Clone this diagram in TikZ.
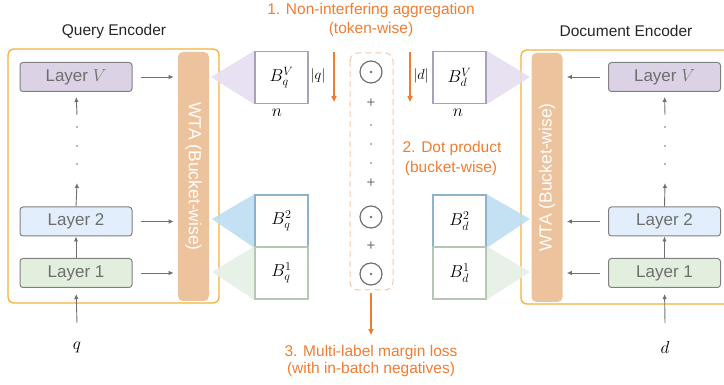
\documentclass[tikz,border=0pt]{standalone}
\usepackage{fontspec}
\setmainfont{Liberation Sans}
\usetikzlibrary{arrows.meta,backgrounds}

\definecolor{encborder}{RGB}{243,178,52}
\definecolor{wtafill}{RGB}{237,195,157}
\definecolor{aggorange}{RGB}{239,125,49}
\definecolor{dashorange}{RGB}{246,200,165}
\definecolor{arrgray}{RGB}{112,112,112}
\definecolor{laygray}{RGB}{128,128,128}
\definecolor{laytext}{RGB}{110,110,110}
\definecolor{fillV}{RGB}{219,211,229}
\definecolor{fillTwo}{RGB}{226,238,251}
\definecolor{fillOne}{RGB}{227,239,222}
\definecolor{edgeV}{RGB}{170,160,184}
\definecolor{edgeTwo}{RGB}{143,178,204}
\definecolor{edgeOne}{RGB}{181,200,179}
\definecolor{fanV}{RGB}{229,222,240}
\definecolor{fanTwo}{RGB}{188,222,241}
\definecolor{fanOne}{RGB}{230,239,228}

\tikzset{every picture/.style={line width=0.75pt}}

\begin{document}
\begin{tikzpicture}[x=1pt,y=1pt,yscale=-1,xscale=1,
  encbox/.style={draw=encborder,line width=1.3pt,rounded corners=6pt},
  layer/.style={draw=laygray,line width=1pt,rounded corners=3pt,minimum width=112pt,minimum height=29pt,text=laytext,font=\fontsize{17}{20}\selectfont},
  wta/.style={fill=wtafill,rounded corners=5pt,minimum width=31pt,minimum height=249pt,text=white,font=\fontsize{17.5}{20}\selectfont},
  bucket/.style={draw,fill=white,line width=1.5pt,minimum width=53pt,minimum height=52pt,font=\fontsize{16.5}{18}\selectfont},
  fan/.style={opacity=0.9},
  flow/.style={-{Latex[length=5pt,width=4.5pt]},draw=arrgray,line width=0.9pt},
  agg/.style={-{Triangle[length=6pt,width=5pt]},draw=aggorange,line width=1.5pt},
  dotprod/.style={circle,draw=arrgray,line width=1.2pt,minimum size=22pt,inner sep=0pt,path picture={\fill[arrgray] (path picture bounding box.center) circle (1.4pt);}},
  step note/.style={text=aggorange,font=\fontsize{15.5}{18}\selectfont},
  title/.style={text=black!85,font=\fontsize{15.5}{18}\selectfont},
  gray dot/.style={fill=arrgray,circle,inner sep=0pt,minimum size=1.6pt}]
	\clip (0,0) rectangle (724,385);

	\node [title] (qenc) at (114,31) {Query Encoder};
	\node [title] (denc) at (626,31) {Document Encoder};

	% Query layers
	\node [layer,fill=fillV] (qLV) at (76,77) {Layer $V$};
	\node [layer,fill=fillTwo] (qL2) at (76,221.5) {Layer 2};
	\node [layer,fill=fillOne] (qL1) at (76,273) {Layer 1};
	\node [wta] (qwta) at (193.5,176.5) {};
	\node [rotate=-90,text=white,font=\fontsize{17.5}{20}\selectfont] (qwtatext) at (qwta) {WTA (Bucket-wise)};

	% Document layers
	\node [layer,fill=fillV] (dLV) at (664.5,77) {Layer $V$};
	\node [layer,fill=fillTwo] (dL2) at (664.5,221.5) {Layer 2};
	\node [layer,fill=fillOne] (dL1) at (664.5,273) {Layer 1};
	\node [wta] (dwta) at (547,177.5) {};
	\node [rotate=90,text=white,font=\fontsize{17.5}{20}\selectfont] (dwtatext) at (dwta) {WTA (Bucket-wise)};

	% Inputs
	\node [font=\fontsize{17}{20}\selectfont] (qin) at (77,347) {$q$};
	\node [font=\fontsize{17}{20}\selectfont] (din) at (665,347) {$d$};
	\coordinate (qinTop) at (77,323);
	\coordinate (dinTop) at (665,323);
	\coordinate (qup) at (77,183);
	\coordinate (qdown) at (77,115);
	\coordinate (dup) at (665,183);
	\coordinate (ddown) at (665,115);

	% Vertical flow
	\draw [flow,shorten >=6pt] (qinTop) -- (qL1.south);
	\draw [flow] (qL1.north) -- (qL2.south);
	\draw [flow] (qL2.north) -- (qup);
	\draw [flow,shorten >=5pt] (qdown) -- (qLV.south);
	\draw [flow,shorten >=6pt] (dinTop) -- (dL1.south);
	\draw [flow] (dL1.north) -- (dL2.south);
	\draw [flow] (dL2.north) -- (dup);
	\draw [flow,shorten >=5pt] (ddown) -- (dLV.south);
	\foreach \y in {127,146,164} {
		\node [gray dot] at (77,\y) {};
		\node [gray dot] at (665,\y) {};
	}

	% Layers to WTA
	\draw [flow,shorten <=8pt,shorten >=4pt] (qLV.east) -- (qLV.east -| qwta.west);
	\draw [flow,shorten <=8pt,shorten >=4pt] (qL2.east) -- (qL2.east -| qwta.west);
	\draw [flow,shorten <=8pt,shorten >=4pt] (qL1.east) -- (qL1.east -| qwta.west);
	\draw [flow,shorten <=8pt,shorten >=4pt] (dLV.west) -- (dLV.west -| dwta.east);
	\draw [flow,shorten <=8pt,shorten >=4pt] (dL2.west) -- (dL2.west -| dwta.east);
	\draw [flow,shorten <=8pt,shorten >=4pt] (dL1.west) -- (dL1.west -| dwta.east);

	% Buckets
	\coordinate (qfanV) at (211,77);
	\coordinate (qfan2) at (212,219);
	\coordinate (qfan1) at (212,272);
	\coordinate (dfanV) at (530,77);
	\coordinate (dfan2) at (530,219);
	\coordinate (dfan1) at (530,272);
	\path (281.5,77.5) node [bucket,draw=edgeV] (qBV) {$B_q^V$};
	\path (281.5,221) node [bucket,draw=edgeTwo] (qB2) {$B_q^2$};
	\path (281.5,273) node [bucket,draw=edgeOne] (qB1) {$B_q^1$};
	\path (459.5,77.5) node [bucket,draw=edgeV] (dBV) {$B_d^V$};
	\path (459.5,221) node [bucket,draw=edgeTwo] (dB2) {$B_d^2$};
	\path (459.5,273) node [bucket,draw=edgeOne] (dB1) {$B_d^1$};
	\begin{scope}[on background layer]
		% Encoder frames
		\draw [encbox] (8,49) rectangle (219,303);
		\draw [encbox] (521,50) rectangle (745,304);
		\fill [fan,fanV] (qfanV) -- (qBV.north west) -- (qBV.south west) -- cycle;
		\fill [fan,fanTwo] (qfan2) -- (qB2.north west) -- (qB2.south west) -- cycle;
		\fill [fan,fanOne] (qfan1) -- (qB1.north west) -- (qB1.south west) -- cycle;
		\fill [fan,fanV] (dfanV) -- (dBV.north east) -- (dBV.south east) -- cycle;
		\fill [fan,fanTwo] (dfan2) -- (dB2.north east) -- (dB2.south east) -- cycle;
		\fill [fan,fanOne] (dfan1) -- (dB1.north east) -- (dB1.south east) -- cycle;
	\end{scope}
	\node [font=\fontsize{16}{18}\selectfont] (qn) at (277,113) {$n$};
	\node [font=\fontsize{16}{18}\selectfont] (dn) at (458,113) {$n$};
	\node [font=\fontsize{14}{16}\selectfont] (qlen) at (318,76) {$|q|$};
	\node [font=\fontsize{14}{16}\selectfont] (dlen) at (421,76) {$|d|$};

	% Aggregation column
	\draw [dashorange,line width=1pt,dash pattern=on 6pt off 4pt,rounded corners=8pt] (350,53) rectangle (393,290);
	\node [dotprod] (dotV) at (371,72) {};
	\node [dotprod] (dot2) at (371,217) {};
	\node [dotprod] (dot1) at (371,274) {};
	\node [text=arrgray,font=\fontsize{15}{18}\selectfont] (plusA) at (371,103) {+};
	\node [text=arrgray,font=\fontsize{15}{18}\selectfont] (plusB) at (371,183) {+};
	\node [text=arrgray,font=\fontsize{15}{18}\selectfont] (plusC) at (371,246) {+};
	\foreach \y in {125,144,163} {
		\node [gray dot] at (371,\y) {};
	}

	% Orange steps
	\coordinate (qaggTop) at (334,52);
	\coordinate (qaggEnd) at (334,102);
	\coordinate (daggTop) at (410,52);
	\coordinate (daggEnd) at (410,102);
	\coordinate (lossTop) at (371,293);
	\coordinate (lossEnd) at (371,335);
	\draw [agg] (qaggTop) -- (qaggEnd);
	\draw [agg] (daggTop) -- (daggEnd);
	\draw [agg] (lossTop) -- (lossEnd);
	\node [step note] (stepA) at (371,10) {1. Non-interfering aggregation};
	\node [step note] (stepAb) at (371,29) {(token-wise)};
	\node [step note] (stepB) at (452,148) {2. Dot product};
	\node [step note] (stepBb) at (451,168) {(bucket-wise)};
	\node [step note] (stepC) at (371,352) {3. Multi-label margin loss};
	\node [step note] (stepCb) at (371,369) {(with in-batch negatives)};

\end{tikzpicture}
\end{document}
